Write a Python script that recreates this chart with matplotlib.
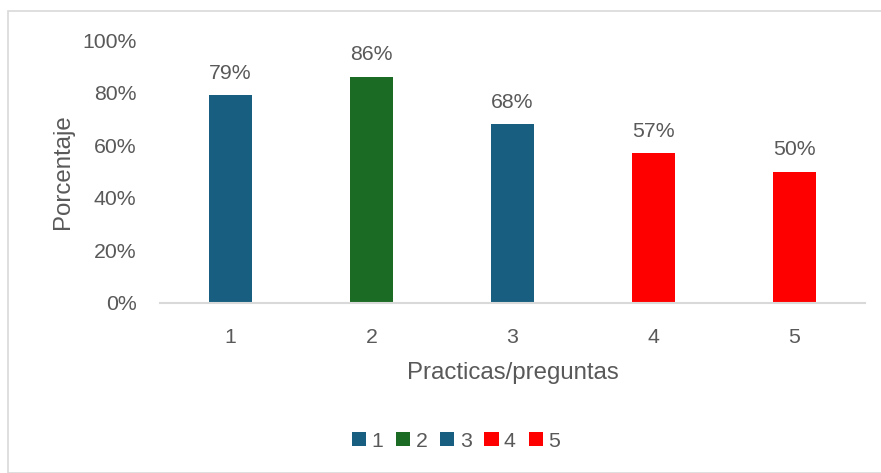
import matplotlib
matplotlib.use("Agg")
import matplotlib.pyplot as plt
from matplotlib.patches import Rectangle, Patch
from matplotlib.ticker import PercentFormatter

categories = ["1", "2", "3", "4", "5"]
values = [79, 86, 68, 57, 50]
colors = ["#175e80", "#1b6b24", "#175e80", "#ff0000", "#ff0000"]

TXT = "#595959"
plt.rcParams["font.family"] = ["Liberation Sans", "DejaVu Sans"]

fig = plt.figure(figsize=(8.81, 4.73), dpi=100)
fig.patches.append(Rectangle((8 / 881, 0), 1, 1 - 11 / 473, transform=fig.transFigure,
                             fill=False, edgecolor="#d9d9d9", lw=1.2))

ax = fig.add_axes([160 / 881, 170 / 473, 705 / 881, 263 / 473])
x = range(len(categories))
bars = ax.bar(x, values, width=0.31, color=colors)
for b, v in zip(bars, values):
    ax.annotate(f"{v}%", (b.get_x() + b.get_width() / 2, v), xytext=(0, 9),
                textcoords="offset points", ha="center", va="bottom",
                fontsize=15.3, color=TXT)

ax.set_xlim(-0.5, 4.5)
ax.set_ylim(0, 100)
ax.set_yticks([0, 20, 40, 60, 80, 100])
ax.yaxis.set_major_formatter(PercentFormatter(decimals=0))
ax.set_xticks(list(x))
ax.set_xticklabels(categories)
ax.tick_params(length=0, labelsize=15.3, labelcolor=TXT)
ax.tick_params(axis="x", pad=18)
ax.tick_params(axis="y", pad=17)
for s in ["top", "right", "left"]:
    ax.spines[s].set_visible(False)
ax.spines["bottom"].set_color("#d9d9d9")
ax.spines["bottom"].set_linewidth(1.5)

ax.set_xlabel("Practicas/preguntas", fontsize=17.3, color=TXT, labelpad=11)
ax.set_ylabel("Porcentaje", fontsize=17.3, color=TXT, labelpad=6)

handles = [Patch(facecolor=c, label=l) for c, l in zip(colors, categories)]
fig.legend(handles=handles, loc="center", bbox_to_anchor=(456 / 881, 1 - 441 / 473),
           ncol=5, frameon=False, fontsize=15.3, handlelength=0.67, handleheight=0.67,
           handletextpad=0.25, columnspacing=0.6, labelcolor=TXT)

fig.savefig("out.png", dpi=100)
